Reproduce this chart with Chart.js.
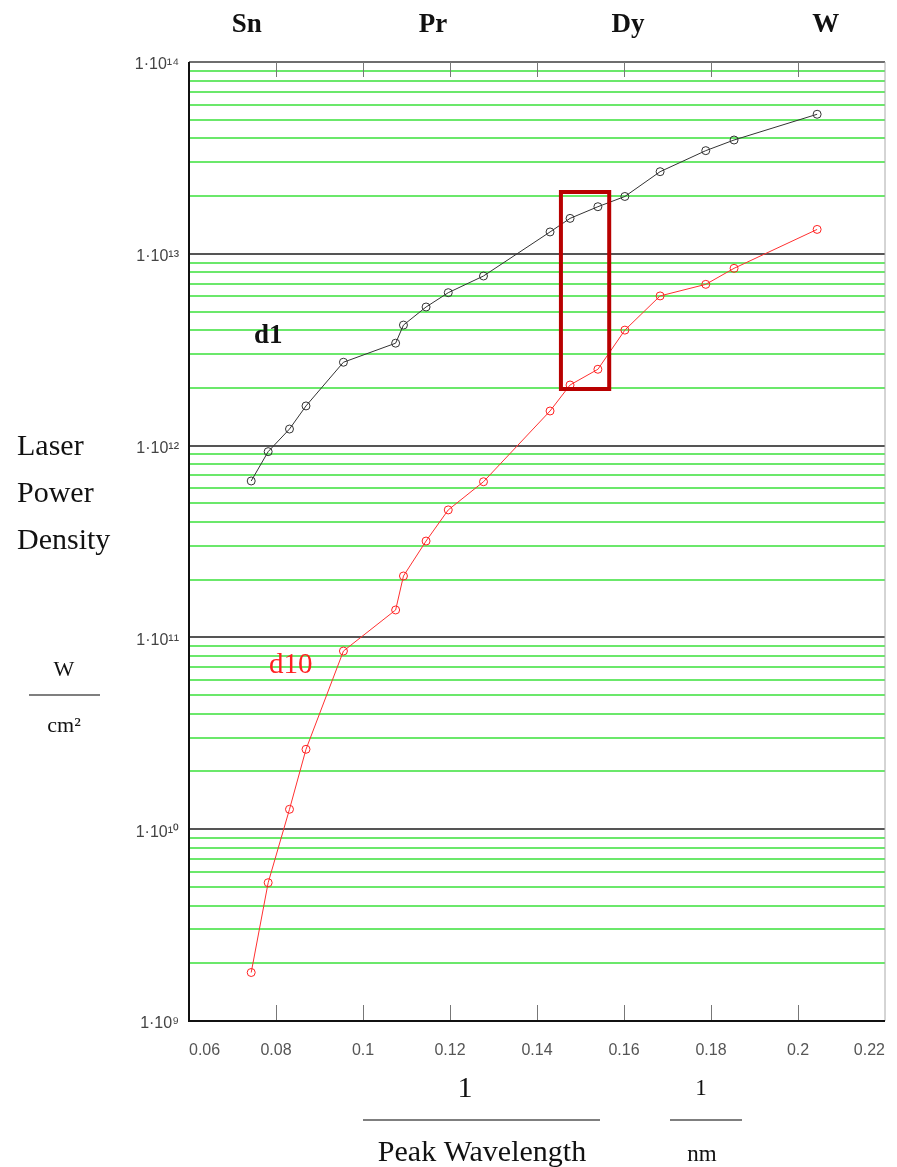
<!DOCTYPE html>
<html><head><meta charset="utf-8">
<script src="https://cdn.jsdelivr.net/npm/chart.js@4/dist/chart.umd.min.js"></script>
<style>html,body{margin:0;padding:0;background:#fff}#wrap{width:897px;height:1167px}</style>
</head><body><div id="wrap"><canvas id="c" width="897" height="1167"></canvas></div>
<script>
// ---- data ----
const invWavelength = [0.0743,0.0782,0.0831,0.0869,0.0955,0.1075,0.1093,0.1145,0.1196,0.1277,0.1430,0.1476,0.1540,0.1602,0.1683,0.1788,0.1853,0.2044];
const densityD1  = [6.54e11,9.3e11,1.22e12,1.61e12,2.72e12,3.42e12,4.25e12,5.28e12,6.27e12,7.66e12,1.30e13,1.53e13,1.76e13,1.99e13,2.68e13,3.45e13,3.92e13,5.34e13];
const densityD10 = [1.79e9,5.26e9,1.27e10,2.61e10,8.49e10,1.39e11,2.09e11,3.18e11,4.62e11,6.48e11,1.515e12,2.07e12,2.50e12,4.0e12,6.03e12,6.93e12,8.40e12,1.34e13];
const seriesNames = ['d1','d10'];
const xTickValues = [0.06,0.08,0.10,0.12,0.14,0.16,0.18,0.20,0.22];
const xTickLabels = ['0.06','0.08','0.1','0.12','0.14','0.16','0.18','0.2','0.22'];
const yDecades = [1e9,1e10,1e11,1e12,1e13,1e14];
const yTickLabels = ['1·10⁹','1·10¹⁰','1·10¹¹','1·10¹²','1·10¹³','1·10¹⁴'];
const elementNames = ['Sn','Pr','Dy','W'];
const elementX = [0.0733,0.1161,0.1609,0.2064];
const highlightX = [0.1455,0.1566];
const highlightY = [1.97e12,2.1e13];
const labelAnchorD1 = {x:0.0782, y:3.73e12};
const labelAnchorD10 = {x:0.0834, y:7.18e10};

// y grid ticks: 1..9 x each decade
const yGridValues = [];
yDecades.forEach((d,i)=>{ if(i<yDecades.length-1){ for(let k=1;k<=9;k++) yGridValues.push(k*d); } else yGridValues.push(d); });
const isDecade = v => Math.abs(Math.log10(v)-Math.round(Math.log10(v)))<1e-6;

const pts = arr => invWavelength.map((x,i)=>({x, y:arr[i]}));
const SERIF = '"Liberation Serif", "DejaVu Serif", serif';
const SANS = '"Liberation Sans", Arial, sans-serif';

const decor = {
  id:'decor',
  beforeDatasetsDraw(chart){
    const {ctx, chartArea:a, scales} = chart;
    ctx.save();
    ctx.strokeStyle='#777'; ctx.lineWidth=1;
    xTickValues.slice(1,-1).forEach(v=>{
      const px=Math.round(scales.x.getPixelForValue(v))+0.5;
      ctx.beginPath(); ctx.moveTo(px,a.top); ctx.lineTo(px,a.top+15); ctx.stroke();
      ctx.beginPath(); ctx.moveTo(px,a.bottom); ctx.lineTo(px,a.bottom-16); ctx.stroke();
    });
    ctx.strokeStyle='#777'; ctx.lineWidth=1.5;
    ctx.beginPath(); ctx.moveTo(a.left,a.top); ctx.lineTo(a.right,a.top); ctx.stroke();
    ctx.strokeStyle='#aaa'; ctx.lineWidth=1;
    ctx.beginPath(); ctx.moveTo(a.right,a.top); ctx.lineTo(a.right,a.bottom); ctx.stroke();
    ctx.strokeStyle='#111'; ctx.lineWidth=2;
    ctx.beginPath(); ctx.moveTo(a.left,a.top); ctx.lineTo(a.left,a.bottom); ctx.lineTo(a.right,a.bottom); ctx.stroke();
    ctx.restore();
  },
  afterDraw(chart){
    const {ctx, scales} = chart;
    ctx.save();
    ctx.textAlign='center'; ctx.textBaseline='middle';
    ctx.fillStyle='#111'; ctx.font='bold 27px '+SERIF;
    ctx.fillText(seriesNames[0], scales.x.getPixelForValue(labelAnchorD1.x), scales.y.getPixelForValue(labelAnchorD1.y));
    ctx.fillStyle='#ff2020'; ctx.font='29px '+SERIF;
    ctx.fillText(seriesNames[1], scales.x.getPixelForValue(labelAnchorD10.x), scales.y.getPixelForValue(labelAnchorD10.y));
    ctx.fillStyle='#111'; ctx.textAlign='left'; ctx.textBaseline='alphabetic';
    ctx.font='30px '+SERIF;
    ctx.fillText('Laser',17,455);
    ctx.fillText('Power',17,502);
    ctx.fillText('Density',17,549);
    ctx.textAlign='center';
    ctx.font='22px '+SERIF;
    ctx.fillText('W',64,676);
    ctx.fillText('cm²',64,732);
    ctx.strokeStyle='#555'; ctx.lineWidth=1.5;
    ctx.beginPath(); ctx.moveTo(29,695); ctx.lineTo(100,695); ctx.stroke();
    ctx.font='30px '+SERIF;
    ctx.fillText('1',465,1097);
    ctx.fillText('Peak Wavelength',482,1161);
    ctx.beginPath(); ctx.moveTo(363,1120); ctx.lineTo(600,1120); ctx.stroke();
    ctx.font='23px '+SERIF;
    ctx.fillText('1',701,1095);
    ctx.fillText('nm',702,1161);
    ctx.beginPath(); ctx.moveTo(670,1120); ctx.lineTo(742,1120); ctx.stroke();
    ctx.restore();
  }
};

new Chart(document.getElementById('c'), {
  type:'scatter',
  data:{ datasets:[
    { label:'highlight', data:[{x:highlightX[0],y:highlightY[0]},{x:highlightX[0],y:highlightY[1]},{x:highlightX[1],y:highlightY[1]},{x:highlightX[1],y:highlightY[0]},{x:highlightX[0],y:highlightY[0]}],
      showLine:true, borderColor:'#b80000', borderWidth:4, pointRadius:0, borderJoinStyle:'miter', borderCapStyle:'square', fill:false },
    { label:seriesNames[0], data:pts(densityD1), showLine:true, borderColor:'#333', borderWidth:1,
      pointStyle:'circle', pointRadius:4, pointBorderWidth:1, pointBorderColor:'#333', pointBackgroundColor:'rgba(0,0,0,0)' },
    { label:seriesNames[1], data:pts(densityD10), showLine:true, borderColor:'#ff3030', borderWidth:1,
      pointStyle:'circle', pointRadius:4, pointBorderWidth:1, pointBorderColor:'#ff2020', pointBackgroundColor:'rgba(0,0,0,0)' }
  ]},
  options:{
    responsive:false, animation:false,
    layout:{padding:{left:0,right:12,top:0,bottom:0}},
    plugins:{legend:{display:false}, tooltip:{enabled:false}},
    scales:{
      x:{ type:'linear', position:'bottom', min:0.06, max:0.22,
        afterBuildTicks:s=>{ s.ticks = xTickValues.map(v=>({value:v})); },
        afterFit:s=>{ s.height=146; s.paddingLeft=0; s.paddingRight=0; },
        grid:{display:false}, border:{display:false},
        ticks:{ autoSkip:false, maxRotation:0, padding:12, align:'inner', color:'#555', font:{family:SANS, size:16},
          callback:(v,i)=>xTickLabels[i] } },
      x2:{ type:'linear', position:'top', min:0.06, max:0.22,
        afterBuildTicks:s=>{ s.ticks = elementX.map(v=>({value:v})); },
        afterFit:s=>{ s.height=62; s.paddingLeft=0; s.paddingRight=0; },
        grid:{display:false}, border:{display:false},
        ticks:{ autoSkip:false, maxRotation:0, padding:13, color:'#111', font:{family:SERIF, size:27, weight:'bold'},
          callback:(v,i)=>elementNames[i] } },
      y:{ type:'logarithmic', position:'left', min:1e9, max:1e14,
        afterBuildTicks:s=>{ s.ticks = yGridValues.map(v=>({value:v, major:isDecade(v)})); },
        afterFit:s=>{ s.width=189; s.paddingTop=0; s.paddingBottom=0; },
        border:{display:false},
        grid:{ drawTicks:false,
          color:c=> (c.tick && isDecade(c.tick.value)) ? '#555' : '#6be86b',
          lineWidth:2 },
        ticks:{ autoSkip:false, padding:10, labelOffset:3, color:'#444', font:{family:SANS, size:16},
          callback:v=>{ const i=yDecades.findIndex(d=>Math.abs(d-v)/d<1e-6); return i>=0?yTickLabels[i]:''; } } }
    }
  },
  plugins:[decor]
});
</script></body></html>
